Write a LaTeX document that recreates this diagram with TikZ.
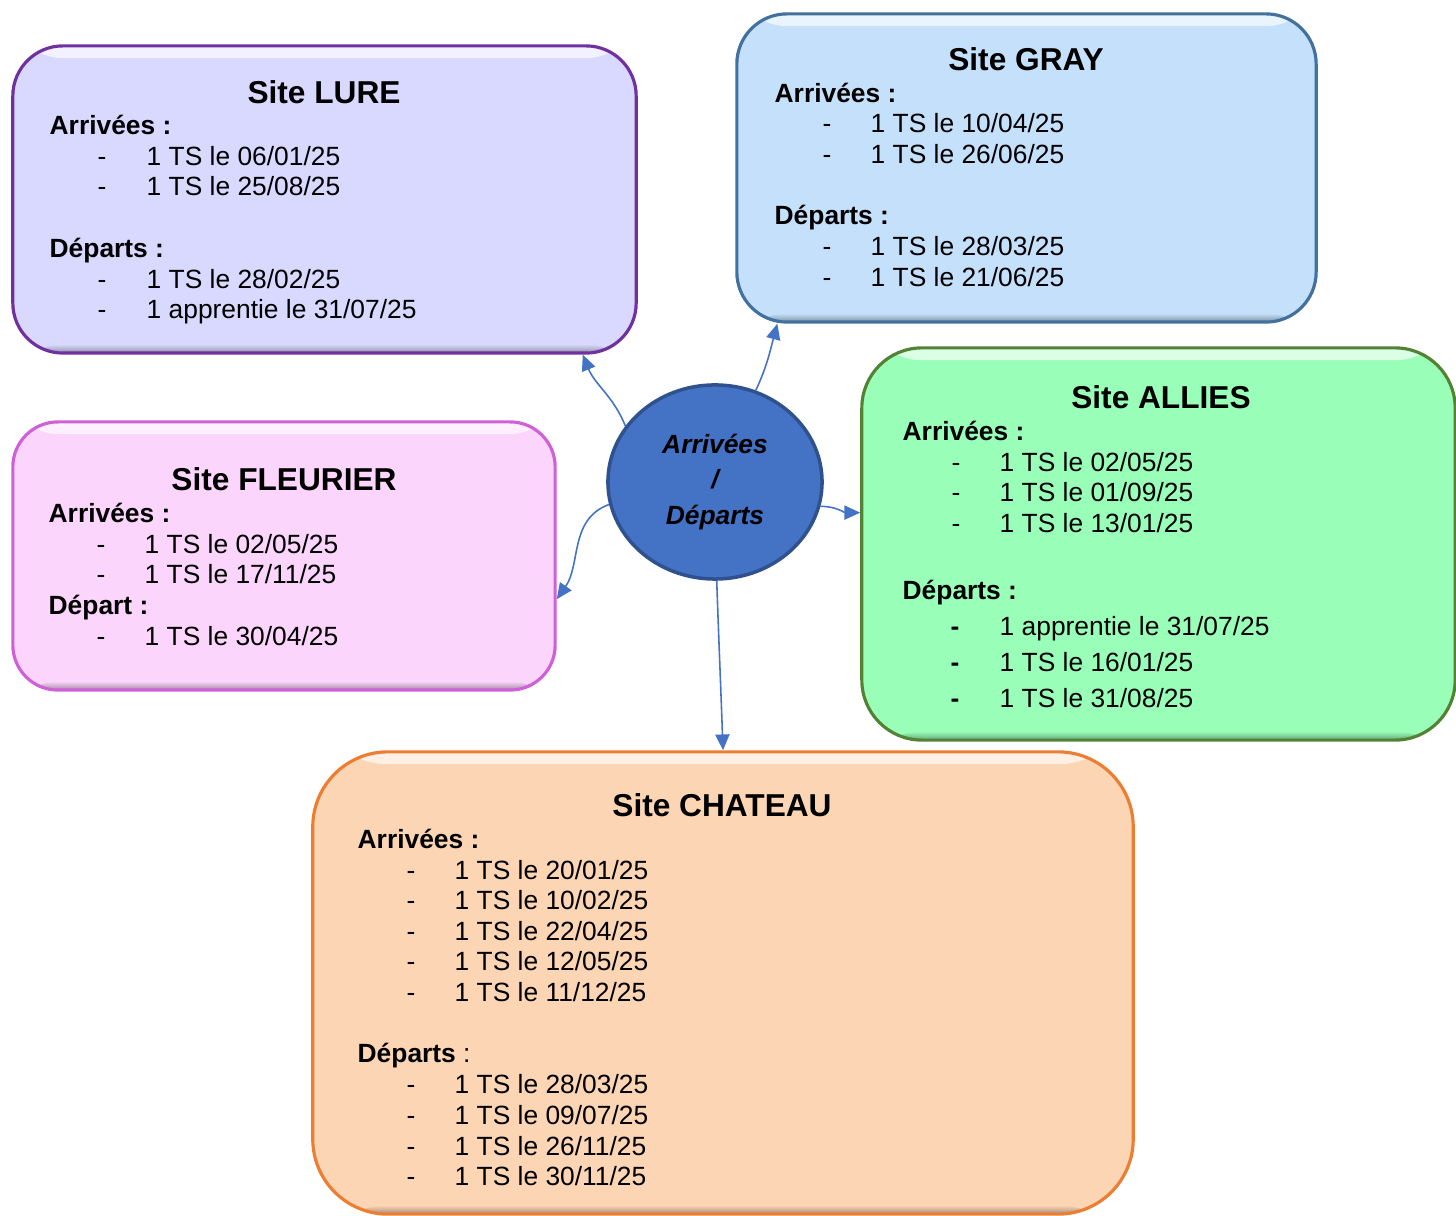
\documentclass[tikz,border=0pt]{standalone}
\usepackage{fontspec}
\setmainfont{Liberation Sans}
\usetikzlibrary{shapes.geometric, arrows.meta}

\definecolor{lureFill}{HTML}{D9D9FF}
\definecolor{lureLine}{HTML}{7030A0}
\definecolor{grayFill}{HTML}{C5E0FA}
\definecolor{grayLine}{HTML}{41719C}
\definecolor{alliesFill}{HTML}{99FFB8}
\definecolor{alliesLine}{HTML}{548235}
\definecolor{fleurFill}{HTML}{FBD5FB}
\definecolor{fleurLine}{HTML}{D060D8}
\definecolor{chatFill}{HTML}{FCD5B5}
\definecolor{chatLine}{HTML}{ED7D31}
\definecolor{hubFill}{HTML}{4472C4}
\definecolor{hubLine}{HTML}{2F528F}

\tikzset{
  sitebox/.style 2 args={draw=#2, fill=#1, line width=0.9pt, inner sep=0pt,
    path picture={
      \shade [top color=#1!35!white, bottom color=#1]
        (path picture bounding box.north west) rectangle
        ([yshift=-3.5pt]path picture bounding box.north east);
      \shade [top color=#1, bottom color=#1!65!black]
        ([yshift=2.5pt]path picture bounding box.south west) rectangle
        (path picture bounding box.south east);
    }},
  title/.style={anchor=base, inner sep=0pt, font=\fontsize{9}{11}\selectfont\bfseries},
  head/.style={anchor=base west, inner sep=0pt, font=\fontsize{7.5}{9}\selectfont\bfseries},
  item/.style={anchor=base west, inner sep=0pt, font=\fontsize{7.5}{9}\selectfont},
  hub/.style={ellipse, draw=hubLine, fill=hubFill, line width=1pt, inner sep=0pt,
    minimum width=2.14cm, minimum height=1.94cm, align=center,
    font=\fontsize{7.5}{10.2}\selectfont\bfseries\itshape},
  link/.style={->, draw=hubFill, line width=0.45pt},
}

\begin{document}
\begin{tikzpicture}[x=0.01cm, y=-0.01cm, >={Triangle[length=4.5pt, width=4pt]}]
    \useasboundingbox (0,0) rectangle (1456,1216);

    % boxes %

    \node [sitebox={lureFill}{lureLine}, rounded corners=0.5cm,
           minimum width=6.23cm, minimum height=3.07cm] (lure) at (324.5,199.5) {};
    \node [sitebox={grayFill}{grayLine}, rounded corners=0.5cm,
           minimum width=5.79cm, minimum height=3.08cm] (gray) at (1026.5,168) {};
    \node [sitebox={alliesFill}{alliesLine}, rounded corners=0.6cm,
           minimum width=5.93cm, minimum height=3.92cm] (allies) at (1158.5,544) {};
    \node [sitebox={fleurFill}{fleurLine}, rounded corners=0.45cm,
           minimum width=5.42cm, minimum height=2.68cm] (fleur) at (284,556) {};
    \node [sitebox={chatFill}{chatLine}, rounded corners=0.75cm,
           minimum width=8.20cm, minimum height=4.62cm] (chat) at (723,983) {};

    % centre
    \node [hub] (hub) at (715,482) {Arrivées\\/\\Départs};

    % site lure
    \node [title] (lure-title) at (324,104) {Site LURE};
    \node [head] (lure-arr) at (49,135) {Arrivées :};
    \foreach \y/\txt [count=\i] in {166/{1 TS le 06/01/25}, 196/{1 TS le 25/08/25}} {
        \node [item] (lure-da\i) at (97,\y) {-};
        \node [item] (lure-a\i) at (146,\y) {\txt};
    }
    \node [head] (lure-dep) at (49,258) {Départs :};
    \foreach \y/\txt [count=\i] in {289/{1 TS le 28/02/25}, 319/{1 apprentie le 31/07/25}} {
        \node [item] (lure-dd\i) at (97,\y) {-};
        \node [item] (lure-d\i) at (146,\y) {\txt};
    }

    % site gray
    \node [title] (gray-title) at (1026,71) {Site GRAY};
    \node [head] (gray-arr) at (774,103) {Arrivées :};
    \foreach \y/\txt [count=\i] in {133/{1 TS le 10/04/25}, 164/{1 TS le 26/06/25}} {
        \node [item] (gray-da\i) at (822,\y) {-};
        \node [item] (gray-a\i) at (870,\y) {\txt};
    }
    \node [head] (gray-dep) at (774,225) {Départs :};
    \foreach \y/\txt [count=\i] in {256/{1 TS le 28/03/25}, 287/{1 TS le 21/06/25}} {
        \node [item] (gray-dd\i) at (822,\y) {-};
        \node [item] (gray-d\i) at (870,\y) {\txt};
    }

    % site allies
    \node [title] (allies-title) at (1161,409) {Site ALLIES};
    \node [head] (allies-arr) at (902,441) {Arrivées :};
    \foreach \y/\txt [count=\i] in {472/{1 TS le 02/05/25}, 502/{1 TS le 01/09/25}, 533/{1 TS le 13/01/25}} {
        \node [item] (allies-da\i) at (951,\y) {-};
        \node [item] (allies-a\i) at (999,\y) {\txt};
    }
    \node [head] (allies-dep) at (902,600) {Départs :};
    \foreach \y/\txt [count=\i] in {636/{1 apprentie le 31/07/25}, 672/{1 TS le 16/01/25}, 708/{1 TS le 31/08/25}} {
        \node [head] (allies-dd\i) at (950,\y) {-};
        \node [item] (allies-d\i) at (999,\y) {\txt};
    }

    % site fleurier
    \node [title] (fleur-title) at (284,491) {Site FLEURIER};
    \node [head] (fleur-arr) at (48,523) {Arrivées :};
    \foreach \y/\txt [count=\i] in {554/{1 TS le 02/05/25}, 584/{1 TS le 17/11/25}} {
        \node [item] (fleur-da\i) at (96,\y) {-};
        \node [item] (fleur-a\i) at (144,\y) {\txt};
    }
    \node [head] (fleur-dep) at (48,615) {Départ :};
    \node [item] (fleur-dd1) at (96,646) {-};
    \node [item] (fleur-d1) at (144,646) {1 TS le 30/04/25};

    % site chateau
    \node [title] (chat-title) at (722,817) {Site CHATEAU};
    \node [head] (chat-arr) at (357,849) {Arrivées :};
    \foreach \y/\txt [count=\i] in {880/{1 TS le 20/01/25}, 910/{1 TS le 10/02/25},
                                   941/{1 TS le 22/04/25}, 971/{1 TS le 12/05/25},
                                   1002/{1 TS le 11/12/25}} {
        \node [item] (chat-da\i) at (406,\y) {-};
        \node [item] (chat-a\i) at (454,\y) {\txt};
    }
    \node [item] (chat-dep) at (357,1063) {\textbf{Départs} :};
    \foreach \y/\txt [count=\i] in {1094/{1 TS le 28/03/25}, 1125/{1 TS le 09/07/25},
                                   1156/{1 TS le 26/11/25}, 1186/{1 TS le 30/11/25}} {
        \node [item] (chat-dd\i) at (406,\y) {-};
        \node [item] (chat-d\i) at (454,\y) {\txt};
    }

    % arrows from the centre %
    \draw [link] (hub.148) to [out=112, in=-68] (lure.-31);
    \draw [link] (hub.66) to [out=65, in=-105] (gray.212);
    \draw [link] (hub.-13) to [out=0, in=180] (allies.174);
    \draw [link] (hub.-168) to [out=200, in=55] (fleur.-9);
    \draw [link] (hub.-89) to [out=-88, in=92] (chat.north);

\end{tikzpicture}
\end{document}
